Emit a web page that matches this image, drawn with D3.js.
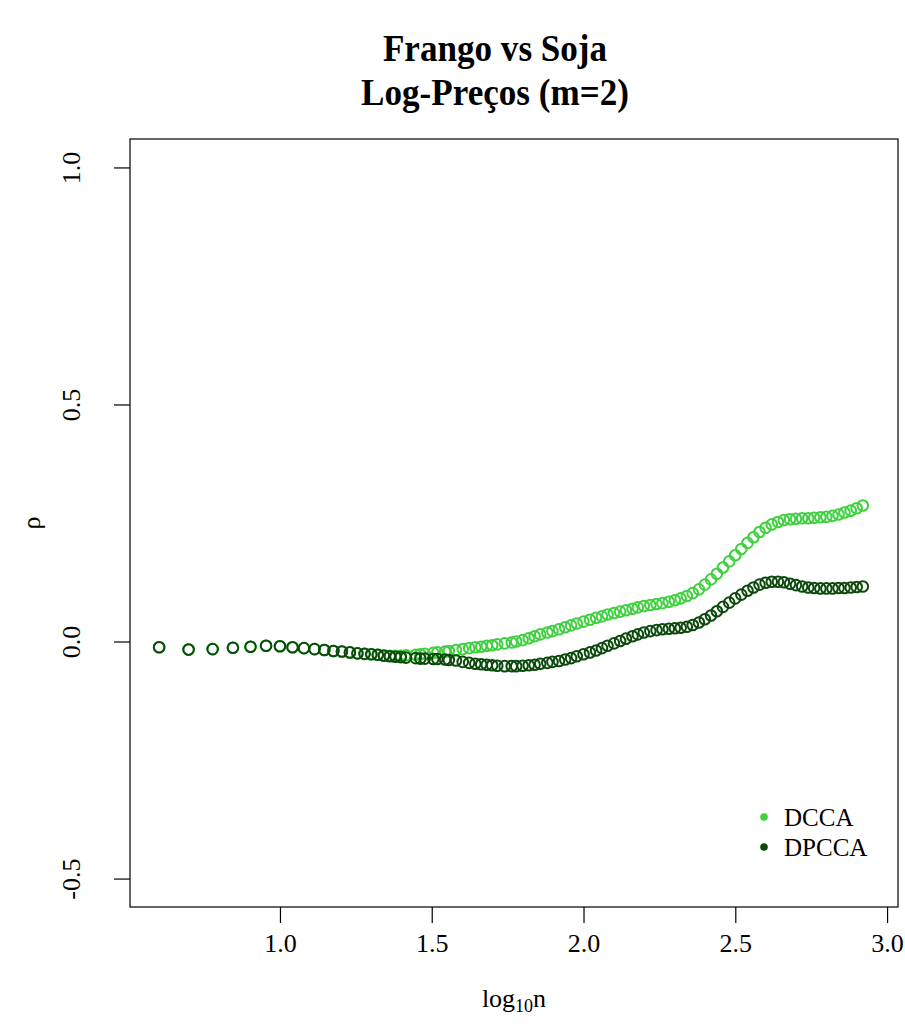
<!DOCTYPE html>
<html>
<head>
<meta charset="utf-8">
<script src="https://cdn.jsdelivr.net/npm/d3@7"></script>
<style>
  html, body { margin: 0; padding: 0; background: #fff; }
  svg { display: block; }
  text { font-family: "Liberation Serif", "Times New Roman", serif; fill: #000; }
</style>
</head>
<body>
<svg id="chart" width="905" height="1026"></svg>
<script>
// Box sizes n used for the detrended cross-correlation coefficients
const nValues = [4,5,6,7,8,9,10,11,12,13,14,15,16,17,18,19,20,21,22,23,24,25,26,28,29,30,32,33,35,36,38,
  40,42,44,46,48,50,52,55,58,60,63,66,69,72,76,79,83,87,91,95,
  100,105,110,115,120,126,132,138,145,151,158,166,174,182,191,200,209,219,229,240,
  251,263,275,288,302,316,331,347,363,380,398,417,437,457,479,501,525,550,575,603,
  631,661,692,724,759,794,832];

// rho_DCCA(n)
const dcca = [-0.012,-0.017,-0.016,-0.013,-0.011,-0.009,-0.010,-0.012,-0.014,-0.016,-0.018,-0.020,-0.021,-0.023,-0.025,-0.026,-0.027,-0.028,-0.029,-0.030,-0.030,-0.030,
  -0.029,-0.028,-0.027,-0.026,-0.024,-0.023,-0.021,-0.020,-0.018,
  -0.016,-0.014,-0.012,-0.011,-0.009,-0.008,-0.006,-0.004,-0.002,0.000,
  0.003,0.007,0.011,0.015,0.019,0.022,0.026,0.030,0.034,0.038,
  0.042,0.046,0.050,0.053,0.057,0.060,0.063,0.066,0.069,0.072,
  0.075,0.077,0.079,0.081,0.084,0.087,0.091,0.096,0.102,0.110,
  0.120,0.131,0.143,0.156,0.169,0.182,0.195,0.208,0.220,0.231,
  0.240,0.247,0.252,0.256,0.258,0.259,0.260,0.260,0.261,0.262,
  0.263,0.265,0.268,0.272,0.276,0.281,0.287];

// rho_DPCCA(n)
const dpcca = [-0.012,-0.017,-0.016,-0.013,-0.011,-0.009,-0.010,-0.012,-0.014,-0.016,-0.018,-0.020,-0.021,-0.023,-0.025,-0.026,-0.027,-0.028,
  -0.030,-0.031,-0.032,-0.033,
  -0.034,-0.035,-0.036,-0.036,-0.037,-0.037,-0.038,-0.039,-0.040,
  -0.043,-0.045,-0.047,-0.048,-0.049,-0.050,-0.051,-0.052,-0.052,-0.052,
  -0.051,-0.050,-0.049,-0.047,-0.045,-0.043,-0.041,-0.038,-0.035,-0.031,
  -0.027,-0.023,-0.019,-0.014,-0.009,-0.004,0.001,0.006,0.011,0.015,
  0.019,0.022,0.024,0.026,0.027,0.028,0.029,0.031,0.035,0.040,
  0.047,0.055,0.064,0.073,0.082,0.091,0.099,0.107,0.114,0.120,
  0.124,0.126,0.126,0.125,0.122,0.119,0.116,0.114,0.113,0.112,
  0.112,0.112,0.113,0.113,0.114,0.115,0.116];

const xTicks = [1.0, 1.5, 2.0, 2.5, 3.0];
const yTicks = [-0.5, 0.0, 0.5, 1.0];
const seriesNames = ["DCCA", "DPCCA"];
const seriesColors = ["#3fd03f", "#0c4a0c"];
const titleLines = ["Frango vs Soja", "Log-Preços (m=2)"];

const svg = d3.select("#chart");
const plot = { left: 130, right: 898, top: 139, bottom: 907 };

const x = d3.scaleLinear().domain([0.506, 3.036]).range([plot.left, plot.right]);
const y = d3.scaleLinear().domain([-0.56, 1.06]).range([plot.bottom, plot.top]);

// two-line bold title, set narrow
svg.append("g").selectAll("text").data(titleLines).join("text")
  .attr("transform", (d, i) => `translate(495,${61 + i * 44}) scale(0.9,1)`)
  .attr("text-anchor", "middle")
  .style("font-size", "39px").style("font-weight", "bold")
  .text(d => d);

// plot frame
svg.append("rect")
  .attr("x", plot.left).attr("y", plot.top)
  .attr("width", plot.right - plot.left).attr("height", plot.bottom - plot.top)
  .attr("fill", "none").attr("stroke", "#000").attr("stroke-width", 1.2);

// axes (labels use a plain hyphen for negatives)
const fmt = d => d.toFixed(1);
const xAxis = svg.append("g").attr("transform", `translate(0,${plot.bottom})`)
  .call(d3.axisBottom(x).tickValues(xTicks).tickFormat(fmt).tickSize(16));
const yAxis = svg.append("g").attr("transform", `translate(${plot.left},0)`)
  .call(d3.axisLeft(y).tickValues(yTicks).tickFormat(fmt).tickSize(16));
[xAxis, yAxis].forEach(g => {
  g.select(".domain").remove();
  g.selectAll(".tick line").attr("stroke", "#000").attr("stroke-width", 1.2);
  g.selectAll(".tick text").style("font-size", "26px")
    .style("font-family", '"Liberation Serif", "Times New Roman", serif').attr("fill", "#000");
});
xAxis.selectAll(".tick text").attr("y", 45).attr("dy", 0);
// y tick labels are drawn parallel to the axis
yAxis.selectAll(".tick text")
  .attr("x", 0).attr("y", 0).attr("dy", 0)
  .attr("text-anchor", "middle")
  .attr("transform", "translate(-50,0) rotate(-90)");

// axis titles
const xt = svg.append("text").attr("x", 514).attr("y", 1007)
  .attr("text-anchor", "middle").style("font-size", "26px");
xt.append("tspan").text("log");
xt.append("tspan").attr("dy", 5).style("font-size", "18px").text("10");
xt.append("tspan").attr("dy", -5).text("n");

svg.append("text")
  .attr("transform", "translate(40,523) rotate(-90)")
  .attr("text-anchor", "middle")
  .style("font-size", "26px").text("ρ");

// points
const seriesData = [dcca, dpcca];
seriesData.forEach((vals, si) => {
  svg.append("g").selectAll("circle")
    .data(nValues.map((n, i) => ({ lx: Math.log10(n), v: vals[i] })))
    .join("circle")
    .attr("cx", d => x(d.lx)).attr("cy", d => y(d.v))
    .attr("r", 5.3)
    .attr("fill", "none")
    .attr("stroke", seriesColors[si])
    .attr("stroke-width", 2);
});

// legend
const lg = svg.append("g").selectAll("g").data(seriesNames).join("g")
  .attr("transform", (d, i) => `translate(764,${817 + i * 30})`);
lg.append("circle").attr("r", 3.8).attr("fill", (d, i) => seriesColors[i]);
lg.append("text").attr("x", 20).attr("dy", "0.35em")
  .style("font-size", "25px").text(d => d);
</script>
</body>
</html>
